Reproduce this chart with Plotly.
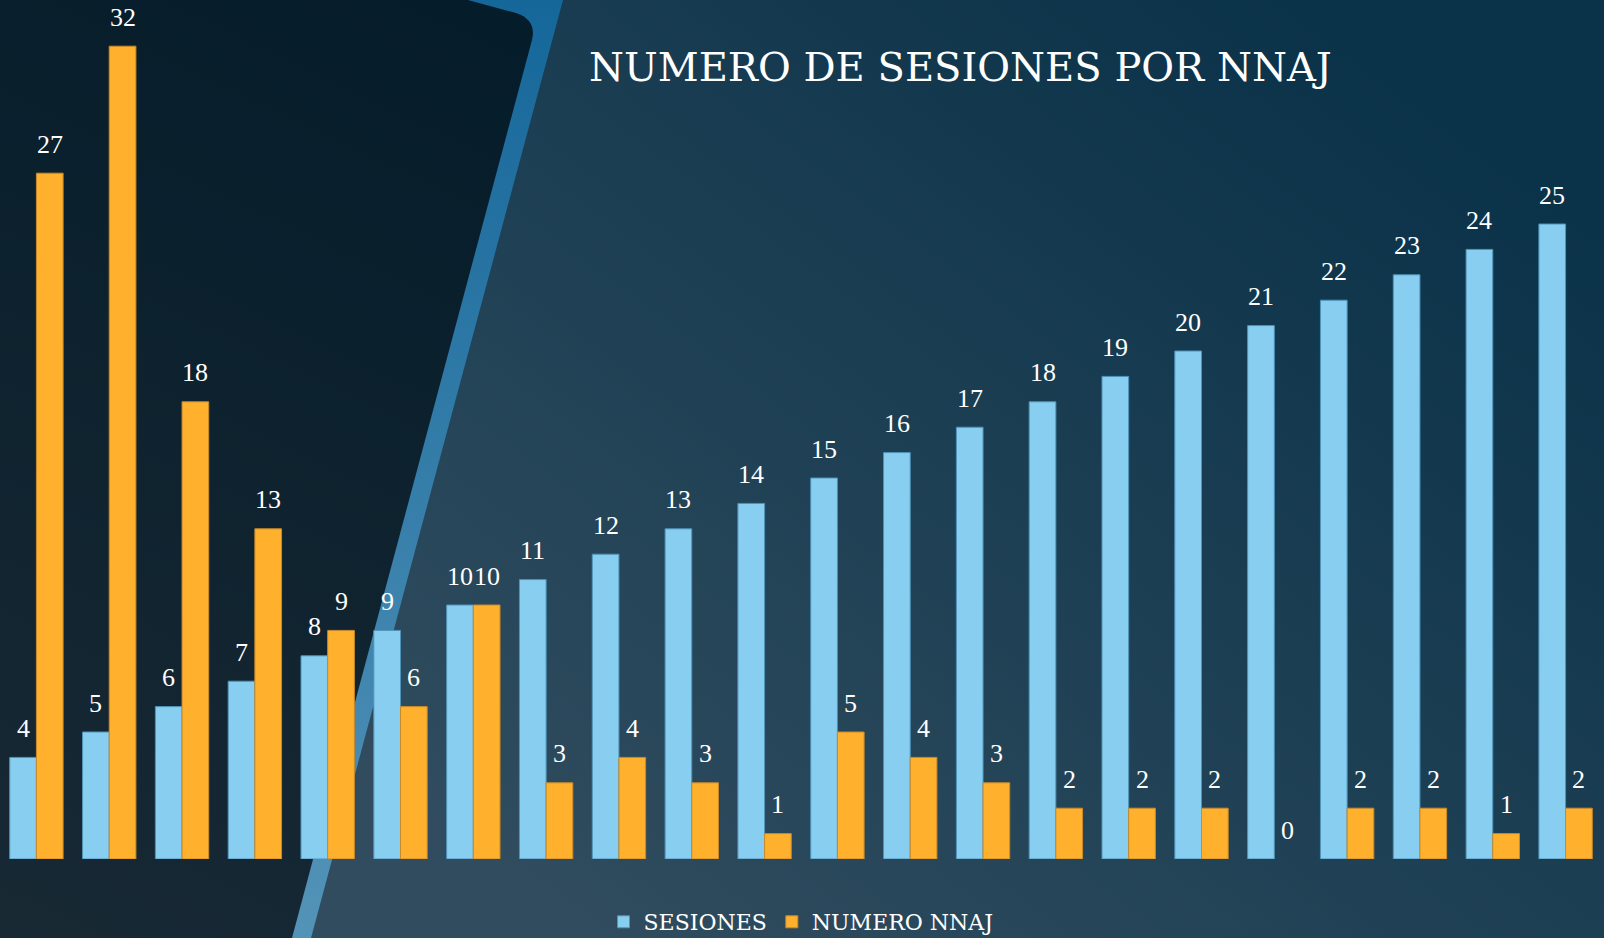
import base64
import plotly.graph_objects as go

# data
categorias = ["1", "2", "3", "4", "5", "6", "7", "8", "9", "10", "11",
              "12", "13", "14", "15", "16", "17", "18", "19", "20", "21", "22"]
sesiones = [4, 5, 6, 7, 8, 9, 10, 11, 12, 13, 14, 15, 16, 17, 18, 19, 20, 21, 22, 23, 24, 25]
numero_nnaj = [27, 32, 18, 13, 9, 6, 10, 3, 4, 3, 1, 5, 4, 3, 2, 2, 2, 0, 2, 2, 1, 2]

W, H = 1604, 938
M = dict(l=0, r=2, t=10, b=79)
plot_w = W - M["l"] - M["r"]
plot_h = H - M["t"] - M["b"]

# background: gradient + diagonal panel, as an svg image
svg = f"""<svg xmlns='http://www.w3.org/2000/svg' width='{W}' height='{H}' viewBox='0 0 {W} {H}' preserveAspectRatio='none'>
<defs>
<linearGradient id='bg' gradientUnits='userSpaceOnUse' x1='600' y1='938' x2='1300' y2='0'>
<stop offset='0' stop-color='#304c5e'/><stop offset='1' stop-color='#0a3249'/></linearGradient>
<linearGradient id='band' x1='0' y1='0' x2='0' y2='1'>
<stop offset='0' stop-color='#15679a'/><stop offset='1' stop-color='#5393b8'/></linearGradient>
<linearGradient id='dark' gradientUnits='userSpaceOnUse' x1='450' y1='0' x2='0' y2='938'>
<stop offset='0' stop-color='#051c2a'/><stop offset='1' stop-color='#182934'/></linearGradient>
</defs>
<rect width='{W}' height='{H}' fill='url(#bg)'/>
<path d='M440,0 L563,0 L311,938 L282,938 Z' fill='url(#band)'/>
<path d='M0,0 L468,0 L516,13 Q537,20 532,40 L292,938 L0,938 Z' fill='url(#dark)'/>
</svg>"""
bg_src = "data:image/svg+xml;base64," + base64.b64encode(svg.encode()).decode()

azul = "#87cef0"
naranja = "#ffb02c"
label_font = dict(family="Liberation Serif", size=26, color="white")

fig = go.Figure()
fig.add_trace(go.Bar(x=categorias, y=sesiones, name="SESIONES",
                     marker=dict(color=azul, line=dict(color="#4f93b8", width=1))))
fig.add_trace(go.Bar(x=categorias, y=numero_nnaj, name="NUMERO NNAJ",
                     marker=dict(color=naranja,
                                 line=dict(color="#c98a2a",
                                           width=[1 if v else 0 for v in numero_nnaj]))))

# value labels above each bar
bargap = 0.267
half = (1 - bargap) / 4
for i in range(len(categorias)):
    for off, val in ((-half, sesiones[i]), (half, numero_nnaj[i])):
        fig.add_annotation(x=i + off, y=val, text=str(val), showarrow=False,
                           xref="x", yref="y", yanchor="middle", yshift=29,
                           font=label_font)

fig.update_layout(
    width=W, height=H, margin=dict(M, autoexpand=False),
    paper_bgcolor="#22404f", plot_bgcolor="rgba(0,0,0,0)",
    barmode="group", bargap=bargap, bargroupgap=0,
    title=dict(text="NUMERO DE SESIONES POR NNAJ", x=589 / plot_w, xanchor="left",
               xref="paper", y=1 - 67 / H, yanchor="middle", yref="container",
               font=dict(family="DejaVu Serif", size=40, color="white")),
    xaxis=dict(type="category", visible=False, range=[-0.5, len(categorias) - 0.5]),
    yaxis=dict(visible=False, range=[0, plot_h / 25.4]),
    legend=dict(orientation="h", x=0.5, xanchor="center", yref="container",
                y=1 - 922 / H, yanchor="middle",
                font=dict(family="DejaVu Serif", size=22, color="white"),
                bgcolor="rgba(0,0,0,0)"),
    images=[dict(source=bg_src, xref="paper", yref="paper", x=-M["l"] / plot_w,
                 y=1 + M["t"] / plot_h, sizex=W / plot_w, sizey=H / plot_h,
                 xanchor="left", yanchor="top", sizing="stretch", layer="below")],
    hovermode=False,
)

fig.write_html("out.html", config={"displayModeBar": False},
               post_script="document.body.style.margin='0';"
                           "document.body.style.overflow='hidden';")
